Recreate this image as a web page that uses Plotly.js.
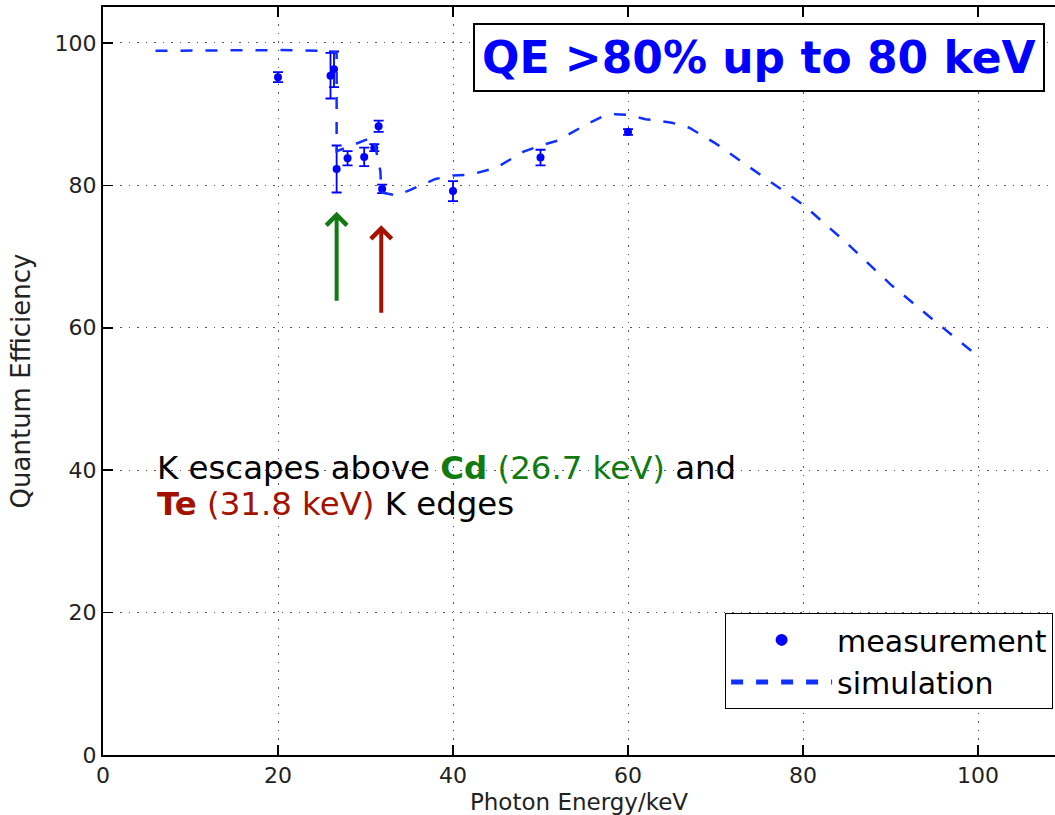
<!DOCTYPE html>
<html><head><meta charset="utf-8">
<script src="https://cdn.plot.ly/plotly-3.0.1.min.js"></script>
<style>html,body{margin:0;padding:0;background:#fff}</style>
</head><body><div id="chart" style="width:1055px;height:815px"></div>
<script>
// Measured quantum efficiency (with error bars)
const measEnergy = [20.0, 26.0, 26.4, 26.7, 27.95, 29.85, 31.0, 31.5, 31.9, 40.0, 50.0, 60.0];
const measQE     = [95.2, 95.4, 96.3, 82.3, 83.8, 84.0, 85.3, 88.3, 79.5, 79.2, 83.9, 87.5];
const measErr    = [0.7, 3.2, 2.5, 3.3, 1.0, 1.3, 0.5, 0.8, 0.6, 1.4, 1.1, 0.4];

// Simulated quantum efficiency
const simEnergy = [6, 20, 25, 26.5, 26.7, 26.7, 28, 30, 30.9, 31.7, 31.8, 33.5, 35, 38, 40, 42, 45, 48, 50, 52, 55, 57, 58.5, 60, 62, 65, 67, 70, 75, 80, 85, 90, 95, 100];
const simQE     = [98.9, 99.0, 98.9, 98.7, 98.5, 84.8, 85.4, 86.4, 86.8, 82.0, 79.0, 78.6, 79.3, 80.9, 81.4, 81.5, 82.5, 84.7, 85.6, 86.3, 88.4, 89.6, 90.0, 89.9, 89.3, 88.8, 88.1, 85.9, 81.6, 77.3, 71.9, 66.1, 61.0, 56.0];

// K edges
const edgeNames  = ["Cd", "Te"];
const edgeEnergy = [26.7, 31.8];

const seriesNames = ["measurement", "simulation"];
const xTitle = "Photon Energy/keV";
const yTitle = "Quantum Efficiency";
const headline = "QE &gt;80% up to 80 keV";

const BLUE = "#0000ff";
const GREEN = "#117a11";
const RED = "#a31200";

const traces = [
  {
    type: "scatter", mode: "markers", name: seriesNames[0],
    x: measEnergy, y: measQE,
    marker: {color: BLUE, size: 8},
    error_y: {type: "data", array: measErr, visible: true, color: BLUE, thickness: 1.8, width: 5}
  },
  {
    type: "scatter", mode: "lines", name: seriesNames[1],
    x: simEnergy, y: simQE,
    line: {color: "#1030ff", width: 2.5, dash: "12px,13px"}
  }
];

const axisCommon = {
  dtick: 20, tick0: 0,
  ticks: "inside", ticklen: 10, tickwidth: 1.5, tickcolor: "#000",
  showline: true, linecolor: "#000", linewidth: 2,
  showgrid: true, gridcolor: "#555", gridwidth: 1, griddash: "1.5px,7px",
  zeroline: false,
  tickfont: {family: "DejaVu Sans", size: 22, color: "#222"}
};

const layout = {
  width: 1055, height: 815,
  margin: {l: 103, r: 0, t: 7, b: 60},
  paper_bgcolor: "#fff", plot_bgcolor: "#fff",
  font: {family: "DejaVu Sans", color: "#222"},
  showlegend: true,
  legend: {
    x: 0.998, xanchor: "right", y: 0.19, yanchor: "top",
    bordercolor: "#000", borderwidth: 1, bgcolor: "#fff",
    font: {family: "DejaVu Sans", size: 30, color: "#000"},
    itemsizing: "constant", itemwidth: 101, tracegroupgap: 0
  },
  xaxis: Object.assign({}, axisCommon, {
    range: [0, 108.8], mirror: "ticks",
    title: {text: xTitle, font: {family: "DejaVu Sans", size: 23, color: "#222"}, standoff: 12}
  }),
  yaxis: Object.assign({}, axisCommon, {
    range: [0, 105.05],
    title: {text: yTitle, font: {family: "DejaVu Sans", size: 26, color: "#222"}, standoff: 16}
  }),
  annotations: [
    {
      xref: "paper", yref: "paper", x: 0.689, y: 0.933, xanchor: "center", yanchor: "middle",
      text: "<b>" + headline + "</b>", showarrow: false,
      font: {family: "DejaVu Sans", size: 44, color: BLUE},
      bordercolor: "#000", borderwidth: 2, borderpad: 7, bgcolor: "#fff"
    },
    {
      xref: "x", yref: "y", x: 5.9, y: 40.3, xanchor: "left", yanchor: "middle", showarrow: false,
      font: {family: "DejaVu Sans", size: 32.4, color: "#000"},
      text: "K escapes above <b><span style='color:" + GREEN + "'>" + edgeNames[0] + "</span></b> <span style='color:" + GREEN + "'>(" + edgeEnergy[0] + " keV)</span> and"
    },
    {
      xref: "x", yref: "y", x: 5.9, y: 35.25, xanchor: "left", yanchor: "middle", showarrow: false,
      font: {family: "DejaVu Sans", size: 32.4, color: "#000"},
      text: "<b><span style='color:" + RED + "'>" + edgeNames[1] + "</span></b> <span style='color:" + RED + "'>(" + edgeEnergy[1] + " keV)</span> K edges"
    },
    {
      xref: "x", yref: "y", axref: "x", ayref: "y",
      x: edgeEnergy[0], y: 76.3, ax: edgeEnergy[0], ay: 63.6, text: "",
      showarrow: true, arrowhead: 4, arrowsize: 1, arrowwidth: 4, arrowcolor: GREEN
    },
    {
      xref: "x", yref: "y", axref: "x", ayref: "y",
      x: edgeEnergy[1], y: 74.4, ax: edgeEnergy[1], ay: 61.9, text: "",
      showarrow: true, arrowhead: 4, arrowsize: 1, arrowwidth: 4, arrowcolor: RED
    }
  ]
};

Plotly.newPlot("chart", traces, layout, {displayModeBar: false, staticPlot: true});
</script>
</body></html>
